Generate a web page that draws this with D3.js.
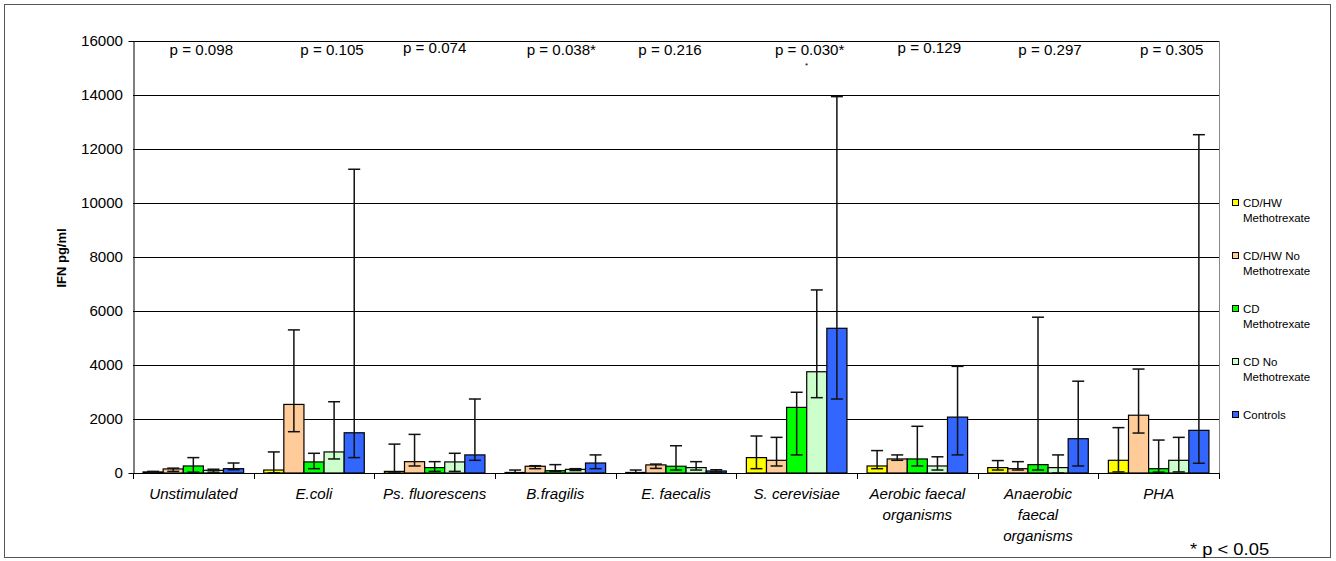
<!DOCTYPE html>
<html>
<head>
<meta charset="utf-8">
<script src="https://cdn.jsdelivr.net/npm/d3@7"></script>
<style>
  html, body { margin: 0; padding: 0; background: #fff; }
  svg text { font-family: Arial, "Liberation Sans", sans-serif; fill: #000; }
</style>
</head>
<body>
<svg id="chart" width="1336" height="561"></svg>
<script>
// Stimulus categories (multi-line labels as arrays of lines)
const categories = [
  ["Unstimulated"], ["E.coli"], ["Ps. fluorescens"], ["B.fragilis"], ["E. faecalis"],
  ["S. cerevisiae"], ["Aerobic faecal", "organisms"], ["Anaerobic", "faecal", "organisms"], ["PHA"]
];

const seriesNames = [
  ["CD/HW", "Methotrexate"], ["CD/HW No", "Methotrexate"], ["CD", "Methotrexate"],
  ["CD No", "Methotrexate"], ["Controls"]
];
const seriesColors = ["#FFFF00", "#FFCC99", "#00FF00", "#CCFFCC", "#3366FF"];

// Mean IFN (pg/ml) per series, one value per category
const cdhwMtx     = [40, 110, 60, 20, 20, 570, 260, 200, 470];
const cdhwNoMtx   = [150, 2540, 420, 250, 300, 470, 520, 160, 2140];
const cdMtx       = [260, 410, 200, 85, 250, 2430, 520, 310, 160];
const cdNoMtx     = [100, 780, 410, 135, 200, 3750, 260, 200, 470];
const controls    = [160, 1490, 670, 370, 75, 5360, 2070, 1270, 1580];

// Upper ends of the error bars
const cdhwMtxHi   = [60, 780, 1070, 110, 110, 1370, 830, 460, 1680];
const cdhwNoMtxHi = [180, 5300, 1430, 270, 330, 1320, 670, 420, 3850];
const cdMtxHi     = [570, 730, 420, 310, 1010, 2990, 1730, 5770, 1220];
const cdNoMtxHi   = [140, 2640, 730, 160, 420, 6780, 600, 670, 1320];
const controlsHi  = [370, 11250, 2740, 670, 120, 13940, 3950, 3400, 12530];

// Lower ends of the error bars
const cdhwMtxLo   = [20, 10, 0, 0, 0, 160, 160, 110, 40];
const cdhwNoMtxLo = [60, 1530, 260, 160, 170, 260, 470, 110, 1480];
const cdMtxLo     = [30, 160, 60, 60, 110, 670, 260, 110, 30];
const cdNoMtxLo   = [30, 520, 60, 90, 110, 2790, 110, 0, 40];
const controlsLo  = [120, 570, 470, 160, 40, 2740, 670, 260, 360];

const pValues = ["p = 0.098", "p = 0.105", "p = 0.074", "p = 0.038*", "p = 0.216",
                 "p = 0.030*", "p = 0.129", "p = 0.297", "p = 0.305"];

const yTicks = [0, 2000, 4000, 6000, 8000, 10000, 12000, 14000, 16000];

// Small hand placement of the p-value labels above each group
const pLabelDx = [8, 18, 0, 6, -6, 13, 12, 12, 13];
const pLabelDy = [0, 0, -2, 0, 0, 0, -2, 0, 0];

const means = [cdhwMtx, cdhwNoMtx, cdMtx, cdNoMtx, controls];
const highs = [cdhwMtxHi, cdhwNoMtxHi, cdMtxHi, cdNoMtxHi, controlsHi];
const lows  = [cdhwMtxLo, cdhwNoMtxLo, cdMtxLo, cdNoMtxLo, controlsLo];

const svg = d3.select("#chart");
const plot = { left: 133, right: 1219, top: 41, bottom: 473 };
const wide = 1.08; // slight horizontal widening of the chart lettering

// Outer chart frame
svg.append("rect")
  .attr("x", 4.5).attr("y", 4.5).attr("width", 1326).attr("height", 553)
  .attr("fill", "none").attr("stroke", "#555").attr("stroke-width", 1);

const catKeys = categories.map((c, i) => i);
const x0 = d3.scaleBand().domain(catKeys).range([plot.left, plot.right]).padding(0);
const x1 = d3.scaleBand().domain(d3.range(seriesNames.length))
  .range([0, x0.bandwidth()]).paddingInner(0).paddingOuter(0.5);
const y = d3.scaleLinear().domain([0, 16000]).range([plot.bottom, plot.top]);
const cx0 = i => x0(i) + x0.bandwidth() / 2;

// Horizontal gridlines
svg.append("g").selectAll("line").data(yTicks.filter(t => t > 0)).join("line")
  .attr("x1", plot.left).attr("x2", plot.right)
  .attr("y1", d => Math.round(y(d)) + 0.5).attr("y2", d => Math.round(y(d)) + 0.5)
  .attr("stroke", "#000").attr("stroke-width", 1);

// Right edge of the plot area
svg.append("line")
  .attr("x1", plot.right + 0.5).attr("x2", plot.right + 0.5)
  .attr("y1", plot.top).attr("y2", plot.bottom)
  .attr("stroke", "#888").attr("stroke-width", 1);

// Bars
const rows = [];
means.forEach((vals, s) => vals.forEach((v, c) => rows.push({ s, c, v, hi: highs[s][c], lo: lows[s][c] })));

svg.append("g").selectAll("rect").data(rows).join("rect")
  .attr("x", d => x0(d.c) + x1(d.s))
  .attr("y", d => y(d.v))
  .attr("width", x1.bandwidth())
  .attr("height", d => y(0) - y(d.v))
  .attr("fill", d => seriesColors[d.s])
  .attr("stroke", "#000").attr("stroke-width", 1.2);

// Error bars
const eb = svg.append("g").attr("stroke", "#111").attr("stroke-width", 1.5);
const capHalf = 6;
rows.forEach(d => {
  const cx = x0(d.c) + x1(d.s) + x1.bandwidth() / 2;
  eb.append("line").attr("x1", cx).attr("x2", cx).attr("y1", y(d.hi)).attr("y2", y(d.lo));
  eb.append("line").attr("x1", cx - capHalf).attr("x2", cx + capHalf).attr("y1", y(d.hi)).attr("y2", y(d.hi));
  eb.append("line").attr("x1", cx - capHalf).attr("x2", cx + capHalf).attr("y1", y(d.lo)).attr("y2", y(d.lo));
});

// Y axis
const yAxis = svg.append("g")
  .attr("transform", `translate(${plot.left + 0.5},0)`)
  .call(d3.axisLeft(y).tickValues(yTicks).tickFormat(d3.format("d")).tickSize(5).tickPadding(6));
yAxis.select(".domain").attr("stroke", "#000");
yAxis.selectAll(".tick line").attr("x2", 4).attr("stroke", "#000");
yAxis.selectAll(".tick text")
  .attr("x", -10.5 / wide)
  .attr("transform", `scale(${wide},1)`)
  .attr("font-size", 14).style("font-family", "Arial, 'Liberation Sans', sans-serif");

svg.append("text")
  .attr("transform", `translate(66,${(plot.top + plot.bottom) / 2 + 1}) rotate(-90)`)
  .attr("text-anchor", "middle")
  .attr("font-size", 13).attr("font-weight", "bold")
  .text("IFN pg/ml");

// X axis line and group boundary ticks
svg.append("line")
  .attr("x1", plot.left).attr("x2", plot.right)
  .attr("y1", plot.bottom + 0.5).attr("y2", plot.bottom + 0.5)
  .attr("stroke", "#000");
const boundaries = catKeys.map(c => x0(c)).concat([x0.range()[1]]);
svg.append("g").selectAll("line").data(boundaries).join("line")
  .attr("x1", d => Math.round(d) + 0.5).attr("x2", d => Math.round(d) + 0.5)
  .attr("y1", plot.bottom).attr("y2", plot.bottom + 6)
  .attr("stroke", "#000");

// Category labels
const xl = svg.append("g").selectAll("g").data(categories).join("g")
  .attr("transform", (d, i) => `translate(${cx0(i)},499) scale(${wide},1)`);
xl.append("text")
  .attr("text-anchor", "middle")
  .attr("font-size", 14).attr("font-style", "italic")
  .selectAll("tspan").data(lines => lines).join("tspan")
  .attr("x", 0)
  .attr("dy", (l, k) => k === 0 ? 0 : 21)
  .text(l => l);

// p-values above each group
svg.append("g").selectAll("text").data(pValues).join("text")
  .attr("text-anchor", "middle")
  .attr("font-size", 14)
  .attr("transform", (d, i) => `translate(${cx0(i) + pLabelDx[i]},${55 + pLabelDy[i]}) scale(${wide},1)`)
  .text(d => d);
svg.append("text")
  .attr("x", cx0(5) + 10).attr("y", 68)
  .attr("text-anchor", "middle").attr("font-size", 8).text("*");

// Legend
const legend = svg.append("g").attr("transform", "translate(1232,0)");
const legendY = [203, 256, 309, 362, 415];
seriesNames.forEach((lines, i) => {
  const g = legend.append("g").attr("transform", `translate(0,${legendY[i]})`);
  g.append("rect").attr("x", 0.5).attr("y", -3.5).attr("width", 6).attr("height", 6)
    .attr("fill", seriesColors[i]).attr("stroke", "#000").attr("stroke-width", 1);
  const t = g.append("text").attr("x", 11).attr("y", 4).attr("font-size", 11.5);
  t.selectAll("tspan").data(lines).join("tspan")
    .attr("x", 11).attr("dy", (l, k) => k === 0 ? 0 : 15).text(l => l);
});

// Significance footnote
svg.append("text")
  .attr("transform", `translate(1190,555) scale(${wide},1)`)
  .attr("font-size", 17).text("* p < 0.05");
</script>
</body>
</html>
